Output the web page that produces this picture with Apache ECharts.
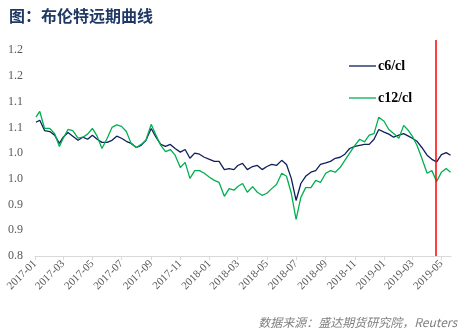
<!DOCTYPE html>
<html>
<head>
<meta charset="utf-8">
<script src="https://cdn.jsdelivr.net/npm/echarts@6/dist/echarts.min.js"></script>
<style>
html,body{margin:0;padding:0;background:#fff;}
#c{width:462px;height:334px;}
</style>
</head>
<body>
<div id="c"></div>
<script>
const dates = [
'2017-01-03','2017-01-11','2017-01-21','2017-02-01','2017-02-11','2017-02-21','2017-03-01','2017-03-11','2017-03-21',
'2017-04-01','2017-04-11','2017-04-21','2017-05-01','2017-05-11','2017-05-21','2017-06-01','2017-06-11','2017-06-21',
'2017-07-01','2017-07-11','2017-07-21','2017-08-01','2017-08-11','2017-08-21','2017-09-01','2017-09-11','2017-09-21',
'2017-10-01','2017-10-11','2017-10-21','2017-11-01','2017-11-11','2017-11-21','2017-12-01','2017-12-11','2017-12-21',
'2018-01-01','2018-01-11','2018-01-21','2018-02-01','2018-02-11','2018-02-21','2018-03-01','2018-03-11','2018-03-21',
'2018-04-01','2018-04-11','2018-04-21','2018-05-01','2018-05-11','2018-05-21','2018-06-01','2018-06-11','2018-06-21',
'2018-07-01','2018-07-11','2018-07-21','2018-08-01','2018-08-11','2018-08-21','2018-09-01','2018-09-11','2018-09-21',
'2018-10-01','2018-10-11','2018-10-21','2018-11-01','2018-11-11','2018-11-21','2018-12-01','2018-12-11','2018-12-21',
'2019-01-01','2019-01-11','2019-01-21','2019-02-01','2019-02-11','2019-02-21','2019-03-01','2019-03-11','2019-03-21',
'2019-04-01','2019-04-11','2019-04-21','2019-05-01','2019-05-11','2019-05-20'
];
const c6 = [
1.060,1.064,1.044, 1.042,1.035,1.019, 1.031,1.040,1.033,
1.025,1.031,1.027, 1.035,1.027,1.021, 1.021,1.025,1.033,
1.029,1.023,1.019, 1.011,1.015,1.025, 1.048,1.031,1.017,
1.013,1.017,1.009, 1.002,1.007,0.990, 1.000,0.998,0.992,
0.988,0.984,0.984, 0.968,0.970,0.968, 0.976,0.980,0.968,
0.974,0.976,0.968, 0.974,0.978,0.976, 0.986,0.978,0.951,
0.908,0.941,0.955, 0.963,0.966,0.978, 0.981,0.984,0.990,
0.992,0.998,1.009, 1.013,1.015,1.017, 1.017,1.027,1.046,
1.041,1.037,1.031, 1.035,1.038,1.033, 1.029,1.023,1.011,
0.996,0.988,0.983, 0.997,1.001,0.996
];
const c12 = [
1.070,1.081,1.048, 1.048,1.038,1.013, 1.029,1.046,1.044,
1.029,1.031,1.037, 1.048,1.033,1.009, 1.029,1.050,1.055,
1.052,1.042,1.019, 1.011,1.017,1.025, 1.056,1.035,1.015,
1.003,1.007,0.996, 0.972,0.982,0.951, 0.966,0.966,0.961,
0.953,0.947,0.943, 0.916,0.931,0.928, 0.935,0.941,0.924,
0.935,0.924,0.918, 0.922,0.931,0.939, 0.961,0.955,0.922,
0.871,0.914,0.933, 0.933,0.947,0.943, 0.961,0.966,0.963,
0.972,0.986,1.000, 1.015,1.027,1.022, 1.035,1.038,1.070,
1.062,1.046,1.038, 1.029,1.054,1.044, 1.033,1.015,0.990,
0.961,0.966,0.945, 0.963,0.970,0.963
];
const tickMonths = ['2017-01','2017-03','2017-05','2017-07','2017-09','2017-11','2018-01','2018-03','2018-05','2018-07','2018-09','2018-11','2019-01','2019-03','2019-05'];
const markDate = '2019-04-20';
const seriesNames = ['c6/cl','c12/cl'];

function ts(s){ const p = s.split('-').map(Number); return new Date(p[0], p[1]-1, p[2]||1).getTime(); }
const tickVals = tickMonths.map(m => ts(m));
function pad(n){ return n < 10 ? '0'+n : ''+n; }

const chart = echarts.init(document.getElementById('c'));
chart.setOption({
  animation: false,
  backgroundColor: '#fff',
  title: {
    text: '图：布伦特远期曲线',
    left: 4, top: 3,
    textStyle: {fontFamily: 'Noto Sans CJK SC', fontSize: 16, fontWeight: 'bold', color: '#1f3864'}
  },
  graphic: [{
    type: 'text', right: 5, bottom: 6,
    style: {text: '数据来源：盛达期货研究院，Reuters', fontFamily: 'Noto Sans CJK SC', fontSize: 12, fontStyle: 'italic', fill: '#808080'}
  }],
  legend: {
    orient: 'vertical', left: 344, top: 53, itemGap: 16,
    itemWidth: 27, itemHeight: 1.3, icon: 'rect',
    data: seriesNames,
    textStyle: {fontFamily: 'Liberation Serif', fontSize: 14, fontWeight: 'bold', color: '#000', height: 16, lineHeight: 16, padding: [0, 0, 0, -3]}
  },
  grid: {left: 35, right: 11, top: 40, bottom: 78},
  xAxis: {
    type: 'value',
    min: ts('2017-01-01'), max: ts('2019-05-21'),
    axisLine: {lineStyle: {color: '#d9d9d9', width: 1}},
    axisTick: {show: true, length: 4, customValues: tickVals, lineStyle: {color: '#d9d9d9'}},
    axisLabel: {
      customValues: tickVals, rotate: 45, margin: 6,
      fontFamily: 'Liberation Serif', fontSize: 11, color: '#595959',
      formatter: function (v) { const d = new Date(v); return d.getFullYear() + '-' + pad(d.getMonth()+1); }
    },
    splitLine: {show: false}
  },
  yAxis: {
    type: 'value', min: 0.8, max: 1.22, interval: 0.05,
    axisLine: {show: false}, axisTick: {show: false}, splitLine: {show: false},
    axisLabel: {
      showMaxLabel: false, margin: 12,
      fontFamily: 'Liberation Serif', fontSize: 12, color: '#595959',
      formatter: function (v) { return (Math.round(v*10 + 1e-6)/10).toFixed(1); }
    }
  },
  series: [
    {
      name: seriesNames[0], type: 'line', symbol: 'none', showSymbol: false,
      data: dates.map((d, i) => [ts(d), c6[i]]),
      lineStyle: {color: '#0f1f5c', width: 1.3}, itemStyle: {color: '#0f1f5c'},
      markLine: {
        silent: true, symbol: 'none', label: {show: false},
        lineStyle: {color: '#ff0000', width: 1.5, type: 'solid'},
        data: [{xAxis: ts(markDate)}]
      }
    },
    {
      name: seriesNames[1], type: 'line', symbol: 'none', showSymbol: false,
      data: dates.map((d, i) => [ts(d), c12[i]]),
      lineStyle: {color: '#00b050', width: 1.3}, itemStyle: {color: '#00b050'}
    }
  ]
});
</script>
</body>
</html>
